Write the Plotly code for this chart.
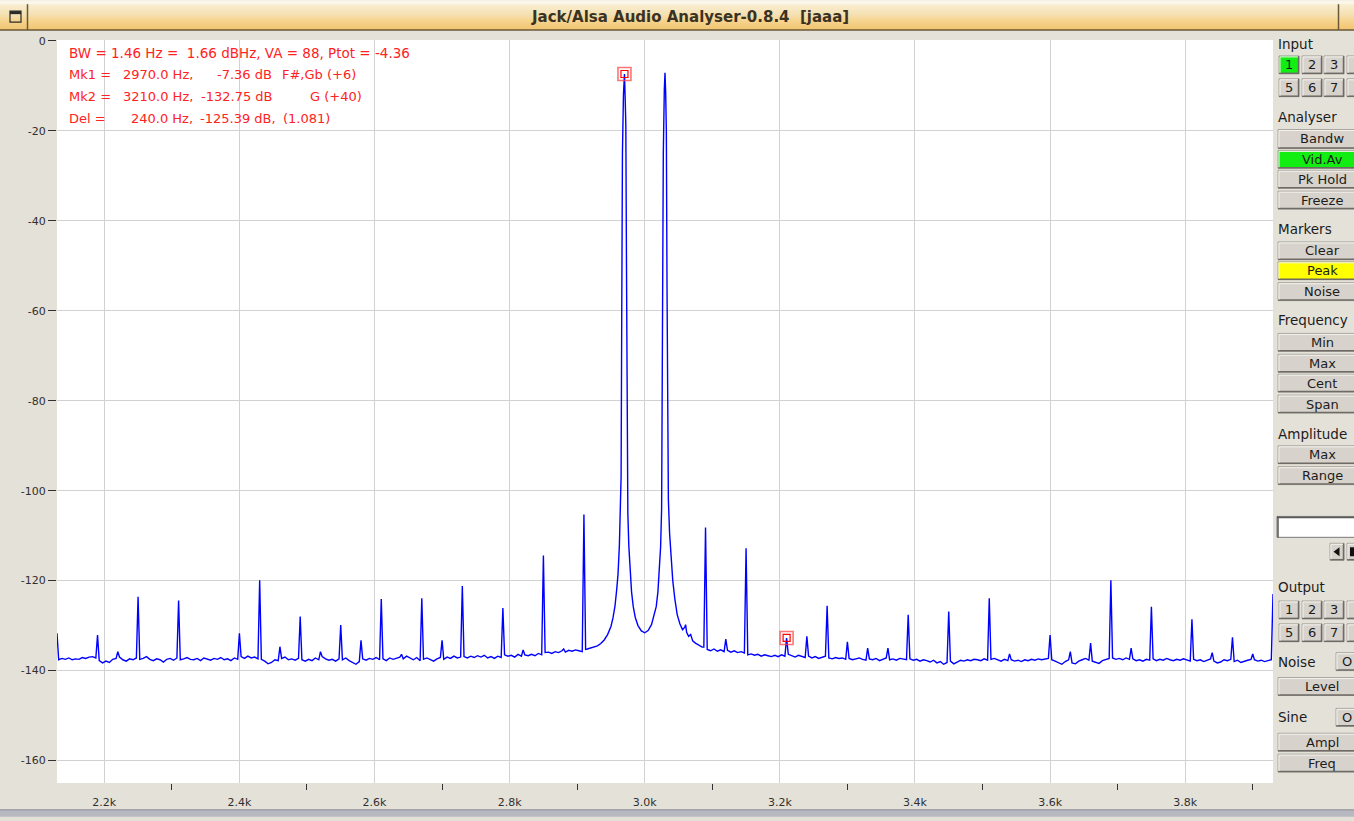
import plotly.graph_objects as go

# ---------------- data ----------------
FLOOR_STEP_HZ = 5.0
FLOOR_LO_START_HZ = 2132.5
FLOOR_HI_START_HZ = 3087.5

# noise floor, 2132.5 .. 2912.5 Hz, every 5 Hz (dB)
floor_lo_db = [
    -137.6, -137.3, -137.5, -137.2, -137.6, -137.4, -137.5, -137.1, -137.3, -137.0,
    -136.9, -137.2, -137.8, -138.3, -137.9, -138.2, -137.5, -137.3, -137.0, -137.6,
    -137.9, -137.4, -137.6, -137.2, -137.5, -137.3, -136.9, -137.5, -137.8, -137.4,
    -137.6, -138.1, -137.5, -137.3, -137.7, -137.2, -137.6, -137.4, -137.1, -137.5,
    -137.6, -137.3, -137.8, -137.2, -137.4, -137.7, -137.3, -137.5, -137.1, -137.6,
    -137.4, -137.8, -137.2, -137.5, -136.9, -137.3, -136.8, -137.2, -137.0, -137.4,
    -137.5, -137.9, -138.5, -138.2, -137.6, -137.8, -137.3, -137.0, -137.6, -137.4,
    -137.7, -137.3, -137.6, -137.9, -137.5, -137.8, -137.2, -137.6, -136.9, -137.4,
    -137.7, -137.5, -137.9, -137.4, -137.6, -137.2, -137.8, -138.3, -138.6, -138.0,
    -137.4, -137.7, -137.3, -137.5, -137.1, -137.6, -137.4, -137.8, -137.2, -137.5,
    -137.3, -137.0, -137.4, -136.8, -137.3, -137.6, -137.1, -137.8, -137.5, -137.2,
    -137.6, -137.9, -137.4, -137.1, -137.5, -137.0, -137.3, -136.8, -137.2, -137.0,
    -136.9, -137.2, -136.8, -137.1, -136.7, -137.0, -136.6, -137.2, -136.9, -137.3,
    -136.8, -137.1, -136.5, -136.8, -136.6, -137.0, -136.4, -136.8, -136.5, -136.7,
    -136.4, -136.7, -136.2, -136.5, -136.0, -135.9, -136.2, -135.8, -136.0, -135.6,
    -135.9, -135.5, -135.7, -135.4, -135.6, -135.8, -135.3,
]

# noise floor, 3087.5 .. 3927.5 Hz, every 5 Hz (dB)
floor_hi_db = [
    -134.8, -135.3, -135.6, -135.2, -135.7, -135.4, -135.8, -135.5, -135.9, -135.6,
    -136.0, -135.8, -136.1, -136.5, -136.3, -136.6, -136.4, -136.8, -136.5, -136.7,
    -136.9,
    -136.6, -136.9, -136.5, -136.8, -136.4, -136.7, -137.0, -136.6, -136.9, -137.1,
    -136.8, -137.2, -136.9, -137.3, -137.0, -136.8, -137.2, -137.4, -137.1, -137.3,
    -137.2, -137.5, -137.3, -137.6, -137.4, -137.2, -137.5, -137.7, -137.4, -137.6,
    -137.3, -137.8, -137.5, -137.2, -137.6, -137.4, -137.7, -137.3, -137.5, -137.6,
    -137.4, -137.7, -137.5, -137.9, -137.6, -137.8, -138.1, -137.7, -138.3, -138.0,
    -138.6, -138.2, -137.9, -138.5, -138.1, -137.7, -137.9, -137.6, -137.8, -137.5,
    -137.6, -137.8, -137.4, -137.7, -137.5, -137.3, -137.6, -137.9, -137.5, -137.8,
    -137.6, -137.9, -137.7, -138.0, -137.6, -137.8, -137.5, -137.7, -137.4, -137.6,
    -137.5, -137.3, -137.6, -137.9, -138.2, -138.6, -138.0, -137.6, -138.3, -138.5,
    -137.9, -137.6, -137.3, -137.7, -137.9, -138.2, -138.4, -137.8, -137.5, -137.3,
    -137.2, -137.5, -137.3, -137.6, -137.2, -137.5, -137.4, -137.8, -137.6, -137.9,
    -137.5, -137.7, -137.4, -137.8, -137.5, -137.7, -137.3, -137.6, -137.8, -137.5,
    -137.7, -137.4, -137.6, -137.9, -137.5, -137.8, -137.6, -138.0, -137.7, -137.4,
    -137.9, -138.3, -138.1, -137.6, -137.8, -137.5, -138.0, -137.7, -138.2, -137.9,
    -137.7, -137.5, -137.6, -137.9, -137.7, -138.0, -137.8, -137.6,
]

# the two test tones and the leakage skirts between 2915 and 3085 Hz
skirt_hz = [2915, 2920, 2925, 2930, 2935, 2940, 2945, 2950, 2953, 2956,
            2958.5, 2960.5, 2962.5, 2964, 2965, 2966, 2967, 2968.5, 2970, 2971,
            2972, 2973, 2974, 2975, 2976.5, 2978.5, 2980.5, 2983, 2986, 2990,
            2995, 3000, 3005, 3010, 3014, 3017, 3019.5, 3021.5, 3023.5, 3025,
            3026, 3027.5, 3029, 3030, 3031, 3032, 3033, 3034, 3035, 3036.8,
            3039, 3041.5, 3044.5, 3048, 3052, 3056, 3059, 3060.5, 3062, 3065,
            3068, 3071, 3075, 3080, 3085]
skirt_db = [-135.2, -135.0, -134.8, -134.5, -134.0, -133.2, -132.0, -130.2, -128.3, -125.6,
            -122.0, -118.5, -112.0, -104.0, -97.0, -60.0, -25.0, -12.0, -7.36, -12.5,
            -18.6, -50.0, -90.0, -105.0, -112.5, -118.5, -122.5, -125.8, -128.2, -130.0,
            -131.2, -131.6, -131.1, -129.8, -127.8, -125.8, -122.5, -118.5, -112.5, -104.0,
            -60.0, -25.0, -10.8, -7.1, -11.6, -20.0, -55.0, -92.0, -102.0, -109.5,
            -115.5, -120.0, -124.0, -127.5, -129.6, -130.9, -130.4, -129.8, -131.5, -132.4,
            -132.0, -133.4, -133.9, -134.4, -134.8]

# intermodulation / distortion lines
peak_hz = [2130, 2190, 2220, 2250, 2310, 2400, 2430, 2460, 2490, 2520,
           2550, 2580, 2610, 2640, 2670, 2700, 2730, 2790, 2820, 2850,
           2880, 2910, 3090, 3120, 3150, 3210, 3240, 3270, 3300, 3330,
           3360, 3390, 3450, 3510, 3540, 3600, 3630, 3660, 3690, 3720,
           3750, 3810, 3840, 3870, 3900, 3930]
peak_db = [-131.7, -132.1, -135.8, -123.6, -124.4, -131.7, -119.9, -134.7, -128.0, -135.8,
           -129.9, -133.3, -124.1, -136.4, -123.9, -133.3, -121.2, -126.1, -135.4, -114.4,
           -135.2, -105.3, -108.2, -133.0, -112.8, -132.75, -132.4, -125.6, -133.6, -135.0,
           -135.0, -127.6, -126.9, -123.9, -136.3, -132.1, -135.8, -133.9, -119.9, -135.0,
           -125.8, -128.6, -136.0, -132.6, -136.3, -123.0]

marker_hz = [2970.0, 3210.0]
marker_db = [-7.36, -132.75]

x_tick_hz = [2200, 2400, 2600, 2800, 3000, 3200, 3400, 3600, 3800]
x_tick_text = ["2.2k", "2.4k", "2.6k", "2.8k", "3.0k", "3.2k", "3.4k", "3.6k", "3.8k"]
x_minor_hz = [2300, 2500, 2700, 2900, 3100, 3300, 3500, 3700, 3900]
y_tick_db = [0, -20, -40, -60, -80, -100, -120, -140, -160]
y_tick_text = ["0", "-20", "-40", "-60", "-80", "-100", "-120", "-140", "-160"]
x_range_hz = [2130, 3930]
y_range_db = [-165.0, 0.2]

info_line = "BW = 1.46 Hz =\u00a0\u00a01.66 dBHz, VA = 88, Ptot = -4.36"
mk_labels = ["Mk1 =", "Mk2 =", "Del ="]
mk_freq = ["2970.0 Hz,", "3210.0 Hz,", "240.0 Hz,"]
mk_level = ["-7.36 dB", "-132.75 dB", "-125.39 dB,"]
mk_note = ["F#,Gb (+6)", "G (+40)", "(1.081)"]

# ---------------- build spectrum ----------------
pts = []
for i, v in enumerate(floor_lo_db):
    pts.append((FLOOR_LO_START_HZ + i * FLOOR_STEP_HZ, v))
for i, v in enumerate(floor_hi_db):
    pts.append((FLOOR_HI_START_HZ + i * FLOOR_STEP_HZ, v))
pts += list(zip(skirt_hz, skirt_db))
pts += list(zip(peak_hz, peak_db))
pts.sort(key=lambda p: p[0])
spec_x = [p[0] for p in pts]
spec_y = [p[1] for p in pts]

# ---------------- geometry ----------------
W, H = 1354, 821
L, R, T, B = 57, 1273, 40, 787
FONT = "DejaVu Sans"


def px(x):
    return (x - L) / (R - L)


def py(y):
    return (B - y) / (B - T)


shapes = []
annotations = []


def rect(x0, y0, x1, y1, fill, line=None, lw=1):
    shapes.append(dict(type="rect", xref="paper", yref="paper",
                       x0=px(x0), x1=px(x1), y0=py(y1), y1=py(y0),
                       fillcolor=fill,
                       line=dict(color=line if line else fill, width=lw if line else 0),
                       layer="above"))


def hline(x0, x1, y, color, lw=1):
    shapes.append(dict(type="line", xref="paper", yref="paper",
                       x0=px(x0), x1=px(x1), y0=py(y), y1=py(y),
                       line=dict(color=color, width=lw), layer="above"))


def vline(x, y0, y1, color, lw=1):
    shapes.append(dict(type="line", xref="paper", yref="paper",
                       x0=px(x), x1=px(x), y0=py(y0), y1=py(y1),
                       line=dict(color=color, width=lw), layer="above"))


def text(x, y, s, size=13, color="#1c1c1c", anchor="left", bold=False):
    annotations.append(dict(xref="paper", yref="paper", x=px(x), y=py(y),
                            text=("<b>%s</b>" % s) if bold else s,
                            showarrow=False, xanchor=anchor, yanchor="middle",
                            borderpad=0,
                            font=dict(family=FONT, size=size, color=color)))


def button(x0, y0, x1, y1, label, fill="#d7d3cc", tx=None, size=13):
    rect(x0, y0, x1, y1, fill, "#a8a49d", 1)
    hline(x0, x1, y1 - 0.5, "#6e6a65", 1.5)
    vline(x1 - 0.5, y0, y1, "#6e6a65", 1.5)
    hline(x0 + 1, x1 - 1, y0 + 1, "#f4f2ee", 1)
    vline(x0 + 1, y0 + 1, y1 - 1, "#f4f2ee", 1)
    if label:
        text(tx if tx is not None else (x0 + x1) / 2, (y0 + y1) / 2, label,
             size=size, anchor="center")


# title bar (gradient stripes)
c_top = (253, 242, 208)
c_bot = (242, 196, 110)
rect(0, 0, W, 4, "#fbf6ea")
n = 26
for i in range(n):
    t = i / (n - 1)
    c = tuple(int(round(c_top[k] + (c_bot[k] - c_top[k]) * t)) for k in range(3))
    rect(0, 4 + i, W, 5 + i, "rgb(%d,%d,%d)" % c)
hline(0, W, 30, "#6a5838", 1.5)
vline(27.5, 4, 30, "#6a5838", 1.5)
vline(1338.5, 4, 30, "#6a5838", 1.5)
rect(10, 11, 21, 22, "rgba(0,0,0,0)", "#2a2a2a", 1.2)
rect(10, 11, 21, 14, "#2a2a2a")
text(690, 17, "Jack/Alsa Audio Analyser-0.8.4\u00a0\u00a0[jaaa]", size=15,
     color="#3a3222", anchor="center", bold=True)

# bottom strip
rect(0, 814, W, H, "#b8b8c0")
hline(0, W, 814, "#8c8c94", 1)

# right control panel
PANEL_X = 1277
BX0, BX1, BTX = 1278, 1368, 1322
for lab, y in [("Input", 44), ("Analyser", 117), ("Markers", 230), ("Frequency", 322),
               ("Amplitude", 436), ("Output", 590), ("Noise", 665), ("Sine", 721)]:
    text(PANEL_X, y, lab, size=13.5)

small_x = [1279, 1302, 1324, 1347]
for row_y, labels in [((56, 74), ["1", "2", "3", "4"]), ((79, 97), ["5", "6", "7", "8"]),
                      ((604, 622), ["1", "2", "3", "4"]), ((627, 645), ["5", "6", "7", "8"])]:
    for j, xx in enumerate(small_x):
        fill = "#12ee12" if (row_y == (56, 74) and j == 0) else "#d7d3cc"
        button(xx, row_y[0], xx + 20, row_y[1], labels[j] if j < 3 else "", fill=fill)

wide = [("Bandw", 130, 149, "#d7d3cc"), ("Vid.Av", 151, 169, "#12ee12"),
        ("Pk Hold", 171, 189, "#d7d3cc"), ("Freeze", 192, 210, "#d7d3cc"),
        ("Clear", 243, 261, "#d7d3cc"), ("Peak", 263, 281, "#ffff00"),
        ("Noise", 284, 302, "#d7d3cc"), ("Min", 335, 353, "#d7d3cc"),
        ("Max", 356, 374, "#d7d3cc"), ("Cent", 376, 394, "#d7d3cc"),
        ("Span", 397, 415, "#d7d3cc"), ("Max", 448, 466, "#d7d3cc"),
        ("Range", 469, 487, "#d7d3cc"), ("Level", 681, 699, "#d7d3cc"),
        ("Ampl", 737, 755, "#d7d3cc"), ("Freq", 758, 776, "#d7d3cc")]
for lab, y0, y1, fill in wide:
    button(BX0, y0, BX1, y1, lab, fill=fill, tx=BTX)

button(1336, 656, 1370, 674, "O", tx=1347)
button(1336, 712, 1370, 730, "O", tx=1347)

# entry field and arrow buttons
rect(1277, 519, 1370, 540, "#ffffff", "#7a7a7a", 1)
hline(1277, 1370, 520, "#5a5a5a", 1.5)
vline(1278, 519, 540, "#5a5a5a", 1.5)
button(1330, 546, 1344, 563, "")
shapes.append(dict(type="path", xref="paper", yref="paper",
                   path="M %f %f L %f %f L %f %f Z" % (px(1333.5), py(554.5), px(1339.5), py(550),
                                                       px(1339.5), py(559)),
                   fillcolor="#111111", line=dict(width=0), layer="above"))
button(1347, 546, 1370, 563, "")
rect(1350, 550, 1354, 559, "#111111")

# ---------------- figure ----------------
fig = go.Figure()
fig.add_trace(go.Scatter(x=spec_x, y=spec_y, mode="lines",
                         line=dict(color="#0000ff", width=1.4),
                         hoverinfo="skip", showlegend=False))
fig.add_trace(go.Scatter(x=marker_hz, y=marker_db, mode="markers",
                         marker=dict(symbol="square-open", size=13,
                                     color="rgba(255,70,70,0.75)", line=dict(width=1.6)),
                         hoverinfo="skip", showlegend=False))
fig.add_trace(go.Scatter(x=marker_hz, y=marker_db, mode="markers",
                         marker=dict(symbol="square-open", size=7,
                                     color="#ff0000", line=dict(width=1.2)),
                         hoverinfo="skip", showlegend=False))

# red readout text
RED = "#ff2222"
text(68, 53, info_line, size=13.5, color=RED)
MS = 13
for k in range(3):
    yy = 75 + 22 * k
    text(68, yy, mk_labels[k], size=MS, color=RED)
    text(194, yy, mk_freq[k], size=MS, color=RED, anchor="right")
    text(273 if k < 2 else 277, yy, mk_level[k], size=MS, color=RED, anchor="right")
    text([281, 309, 282][k], yy, mk_note[k], size=MS, color=RED)

fig.update_layout(
    width=W, height=H, autosize=False,
    margin=dict(l=L, r=W - R, t=T, b=H - B, pad=0),
    paper_bgcolor="#e4e1d9", plot_bgcolor="#ffffff",
    showlegend=False,
    shapes=shapes, annotations=annotations,
    font=dict(family=FONT, size=11, color="#303030"),
    xaxis=dict(range=x_range_hz, tickmode="array", tickvals=x_tick_hz, ticktext=x_tick_text,
               ticks="outside", ticklen=9, tickcolor="rgba(0,0,0,0)",
               showgrid=True, gridcolor="#d2d2d2", gridwidth=1.3,
               zeroline=False, showline=False, fixedrange=True,
               tickfont=dict(family=FONT, size=11, color="#303030"),
               minor=dict(tickmode="array", tickvals=x_minor_hz, ticks="outside",
                          ticklen=6, tickcolor="#303030", tickwidth=1.2, showgrid=False)),
    yaxis=dict(range=y_range_db, tickmode="array", tickvals=y_tick_db, ticktext=y_tick_text,
               ticks="outside", ticklen=8, tickcolor="#303030", tickwidth=1.2,
               showgrid=True, gridcolor="#d2d2d2", gridwidth=1.3,
               zeroline=False, showline=False, fixedrange=True,
               tickfont=dict(family=FONT, size=11, color="#303030")),
)

fig.write_html("out.html", config=dict(displayModeBar=False),
               post_script="document.body.style.margin='0px';document.body.style.overflow='hidden';")
